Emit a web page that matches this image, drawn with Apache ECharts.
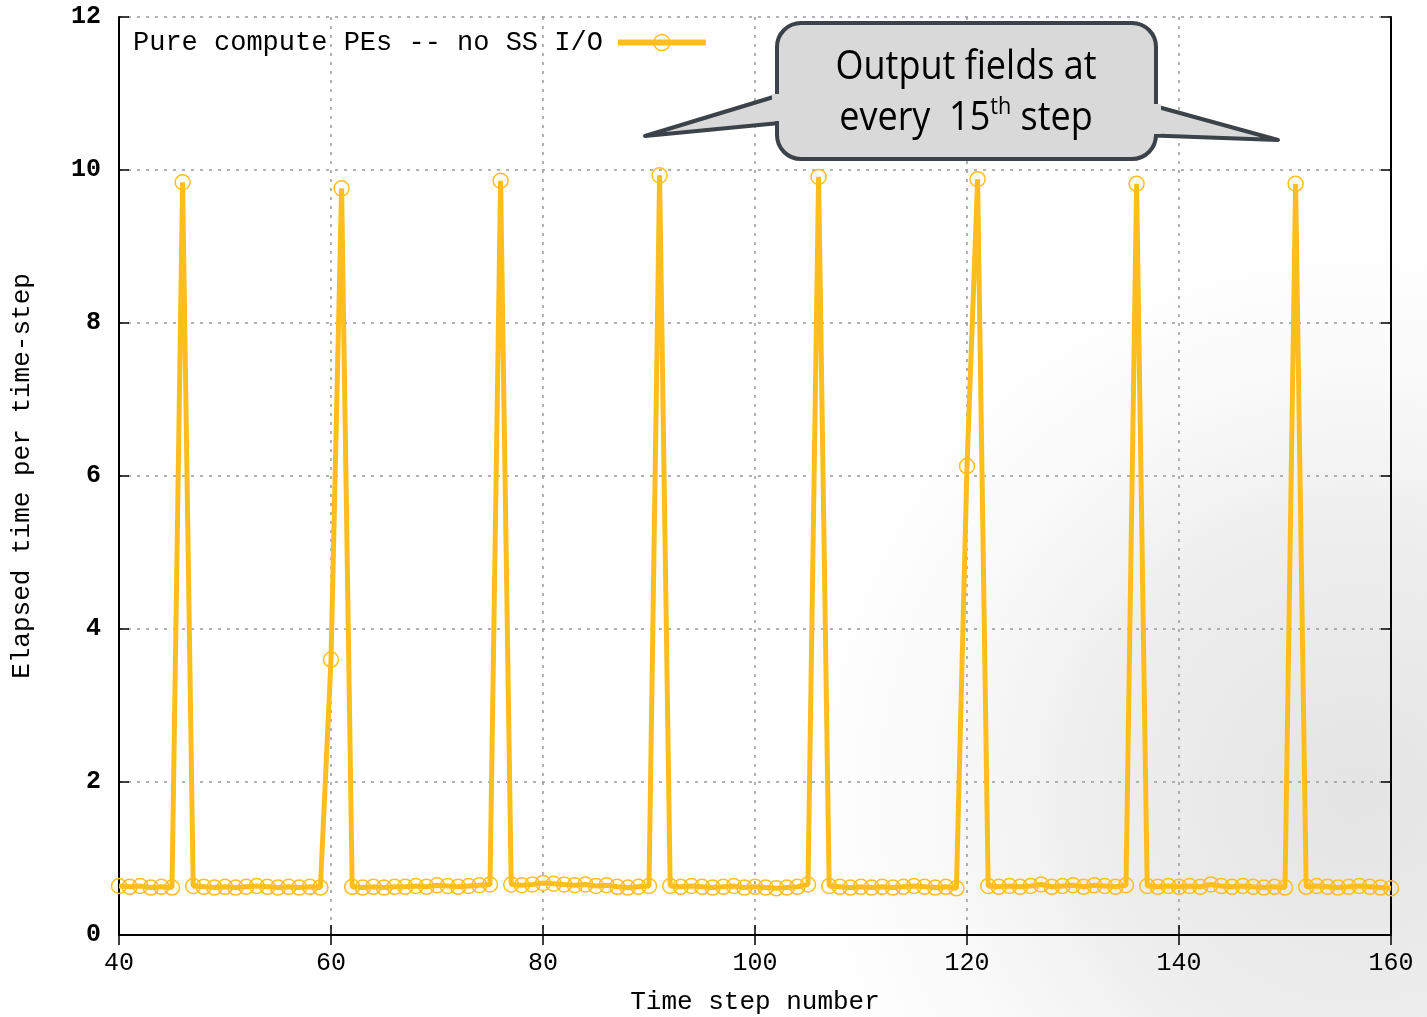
<!DOCTYPE html>
<html>
<head>
<meta charset="utf-8">
<script src="https://cdn.jsdelivr.net/npm/echarts@6/dist/echarts.min.js"></script>
<style>
  html, body { margin: 0; padding: 0; background: #fff; }
  #chart { width: 1427px; height: 1017px; }
</style>
</head>
<body>
<div id="chart"></div>
<script>
// time step numbers
var steps = [
  40, 41, 42, 43, 44, 45, 46, 47, 48, 49, 50, 51, 52, 53, 54, 55, 56, 57, 58, 59,
  60, 61, 62, 63, 64, 65, 66, 67, 68, 69, 70, 71, 72, 73, 74, 75, 76, 77, 78, 79,
  80, 81, 82, 83, 84, 85, 86, 87, 88, 89, 90, 91, 92, 93, 94, 95, 96, 97, 98, 99,
  100, 101, 102, 103, 104, 105, 106, 107, 108, 109, 110, 111, 112, 113, 114, 115, 116, 117, 118, 119,
  120, 121, 122, 123, 124, 125, 126, 127, 128, 129, 130, 131, 132, 133, 134, 135, 136, 137, 138, 139,
  140, 141, 142, 143, 144, 145, 146, 147, 148, 149, 150, 151, 152, 153, 154, 155, 156, 157, 158, 159,
  160
];
// elapsed time per step
var elapsed = [
  0.64, 0.63, 0.64, 0.62, 0.63, 0.62, 9.84, 0.64, 0.63, 0.62, 0.63, 0.62, 0.63, 0.64, 0.63, 0.62, 0.63, 0.62, 0.63, 0.62,
  3.60, 9.76, 0.63, 0.62, 0.63, 0.62, 0.63, 0.63, 0.64, 0.63, 0.65, 0.64, 0.63, 0.64, 0.65, 0.66, 9.86, 0.66, 0.65, 0.66,
  0.68, 0.67, 0.66, 0.65, 0.66, 0.64, 0.65, 0.63, 0.62, 0.63, 0.64, 9.93, 0.64, 0.63, 0.64, 0.63, 0.62, 0.63, 0.64, 0.62,
  0.63, 0.62, 0.61, 0.62, 0.63, 0.66, 9.91, 0.64, 0.63, 0.62, 0.63, 0.62, 0.63, 0.62, 0.63, 0.64, 0.63, 0.62, 0.63, 0.61,
  6.13, 9.88, 0.64, 0.63, 0.64, 0.63, 0.64, 0.66, 0.63, 0.64, 0.65, 0.63, 0.65, 0.64, 0.63, 0.65, 9.82, 0.64, 0.63, 0.64,
  0.63, 0.64, 0.63, 0.66, 0.64, 0.63, 0.64, 0.63, 0.62, 0.63, 0.62, 9.82, 0.63, 0.64, 0.63, 0.62, 0.63, 0.64, 0.63, 0.62,
  0.61
];
var seriesName = 'Pure compute PEs -- no SS I/O';
var xTitle = 'Time step number';
var yTitle = 'Elapsed time per time-step';
var calloutLine1 = 'Output fields at';

var pairs = [];
for (var i = 0; i < steps.length; i++) {
  pairs.push([steps[i], elapsed[i]]);
}

var mono = '"Liberation Mono", "DejaVu Sans Mono", monospace';
var lineColor = '#ffbe1e';

var myChart = echarts.init(document.getElementById('chart'));
var option = {
  animation: false,
  backgroundColor: '#ffffff',
  grid: { left: 119, right: 36, top: 17, bottom: 82, outerBoundsMode: 'none', containLabel: false },
  legend: {
    left: 128,
    top: 24,
    align: 'right',
    itemWidth: 88,
    itemHeight: 20,
    lineStyle: { width: 6, color: lineColor },
    itemStyle: { color: 'rgba(0,0,0,0)', borderColor: lineColor, borderWidth: 1.5 },
    textStyle: { fontFamily: mono, fontSize: 27, color: '#000', padding: [0, 10, 0, 0] },
    data: [seriesName]
  },
  xAxis: [{
    type: 'value',
    min: 40, max: 160, interval: 20,
    name: xTitle,
    nameLocation: 'middle',
    nameGap: 54,
    nameTextStyle: { fontFamily: mono, fontSize: 26, color: '#000' },
    axisLine: { lineStyle: { color: '#000', width: 2 } },
    axisTick: { inside: true, length: 10, lineStyle: { color: '#000', width: 1.5 } },
    axisLabel: { fontFamily: mono, fontSize: 25, color: '#000', margin: 16 },
    splitLine: { show: true, lineStyle: { color: '#999', type: [3, 6], width: 1.5 } }
  }, {
    type: 'value', position: 'top',
    min: 40, max: 160, interval: 20,
    axisLine: { lineStyle: { color: '#000', width: 2 } },
    axisTick: { inside: true, length: 10, lineStyle: { color: '#000', width: 1.5 } },
    axisLabel: { show: false },
    splitLine: { show: false }
  }],
  yAxis: [{
    type: 'value',
    min: 0, max: 12, interval: 2,
    name: yTitle,
    nameLocation: 'middle',
    nameGap: 84,
    nameTextStyle: { fontFamily: mono, fontSize: 26, color: '#000' },
    axisLine: { show: true, lineStyle: { color: '#000', width: 2 } },
    axisTick: { show: true, inside: true, length: 10, lineStyle: { color: '#000', width: 1.5 } },
    axisLabel: { fontFamily: mono, fontSize: 25, fontWeight: 'bold', color: '#000', margin: 18 },
    splitLine: { show: true, lineStyle: { color: '#999', type: [3, 6], width: 1.5 } }
  }, {
    type: 'value', position: 'right',
    min: 0, max: 12, interval: 2,
    axisLine: { show: true, lineStyle: { color: '#000', width: 2 } },
    axisTick: { show: true, inside: true, length: 10, lineStyle: { color: '#000', width: 1.5 } },
    axisLabel: { show: false },
    splitLine: { show: false }
  }],
  graphic: [
    {
      type: 'rect', z: -10, silent: true,
      shape: { x: 0, y: 0, width: 1427, height: 1017 },
      style: {
        fill: {
          type: 'radial', x: 0.95, y: 0.78, r: 0.62,
          colorStops: [
            { offset: 0, color: '#e4e4e4' },
            { offset: 0.45, color: '#efefef' },
            { offset: 1, color: 'rgba(255,255,255,0)' }
          ]
        }
      }
    },
    {
      type: 'polygon', z: 100,
      shape: { points: [[790, 92], [645, 136], [790, 122]] },
      style: { fill: '#d9d9d9', stroke: '#3b4249', lineWidth: 4, lineJoin: 'round' }
    },
    {
      type: 'polygon', z: 100,
      shape: { points: [[1140, 102], [1278, 140], [1140, 135]] },
      style: { fill: '#d9d9d9', stroke: '#3b4249', lineWidth: 4, lineJoin: 'round' }
    },
    {
      type: 'rect', z: 101,
      shape: { x: 777, y: 23, width: 379, height: 136, r: 24 },
      style: { fill: '#d9d9d9', stroke: '#3b4249', lineWidth: 4 }
    },
    {
      type: 'rect', z: 102,
      shape: { x: 772, y: 94, width: 10, height: 27 },
      style: { fill: '#d9d9d9' }
    },
    {
      type: 'rect', z: 102,
      shape: { x: 1151, y: 104, width: 10, height: 30 },
      style: { fill: '#d9d9d9' }
    },
    {
      type: 'text', z: 103,
      x: 966, y: 68, scaleX: 0.9,
      style: {
        text: calloutLine1,
        x: 0, y: 0,
        align: 'center', verticalAlign: 'middle',
        fontFamily: '"Open Sans", sans-serif', fontSize: 40, fill: '#000'
      }
    },
    {
      type: 'text', z: 103,
      x: 966, y: 119, scaleX: 0.9,
      style: {
        text: '{a|every  15}{s|th}{a| step}',
        x: 0, y: 0,
        align: 'center', verticalAlign: 'middle',
        rich: {
          a: { fontFamily: '"Open Sans", sans-serif', fontSize: 40, color: '#000', lineHeight: 48 },
          s: { fontFamily: '"Open Sans", sans-serif', fontSize: 24, color: '#000', lineHeight: 48, verticalAlign: 'top', padding: [0, 0, 14, 0] }
        }
      }
    }
  ],
  series: [{
    name: seriesName,
    type: 'line',
    data: pairs,
    symbol: 'circle',
    symbolSize: 15,
    showAllSymbol: true,
    lineStyle: { color: lineColor, width: 5 },
    itemStyle: { color: 'rgba(0,0,0,0)', borderColor: lineColor, borderWidth: 1.5 },
    z: 3
  }]
};
myChart.setOption(option);
</script>
</body>
</html>
